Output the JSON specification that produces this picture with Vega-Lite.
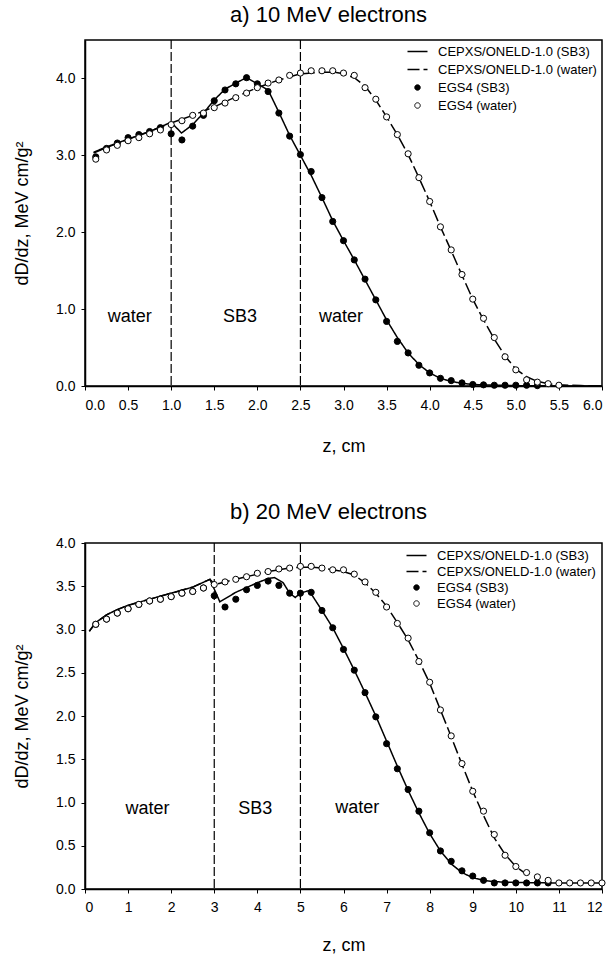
{
  "$schema": "https://vega.github.io/schema/vega-lite/v6.json",
  "background": "white",
  "padding": {"left": 12, "top": 3, "right": 8, "bottom": 0},
  "spacing": 44,
  "config": {
    "font": "Liberation Sans",
    "view": {"stroke": "black", "strokeWidth": 1.5},
    "axis": {"grid": false, "domainColor": "black", "domainWidth": 1.5, "tickColor": "black", "tickSize": 4, "labelColor": "black", "titleColor": "black", "labelFont": "Liberation Sans", "titleFont": "Liberation Sans", "labelFontSize": 14, "titleFontSize": 18, "titleFontWeight": "normal", "labelPadding": 8},
    "title": {"font": "Liberation Sans", "fontSize": 22, "fontWeight": "normal", "color": "black"},
    "text": {"font": "Liberation Sans", "color": "black"}
  },
  "datasets": {
    "a_iface": [{"z": 1.0}, {"z": 2.5}],
    "b_iface": [{"z": 3.0}, {"z": 5.0}],
    "a_labels": [{"z": 0.52, "v": 0.9, "label": "water"}, {"z": 1.8, "v": 0.9, "label": "SB3"}, {"z": 2.97, "v": 0.9, "label": "water"}],
    "b_labels": [{"z": 1.45, "v": 0.92, "label": "water"}, {"z": 3.95, "v": 0.92, "label": "SB3"}, {"z": 6.32, "v": 0.94, "label": "water"}],
    "a_lines": [
      {"series": "CEPXS/ONELD-1.0 (SB3)", "z": 0.1, "v": 3.04}, {"series": "CEPXS/ONELD-1.0 (SB3)", "z": 0.25, "v": 3.11}, {"series": "CEPXS/ONELD-1.0 (SB3)", "z": 0.5, "v": 3.21}, {"series": "CEPXS/ONELD-1.0 (SB3)", "z": 0.75, "v": 3.31}, {"series": "CEPXS/ONELD-1.0 (SB3)", "z": 1.0, "v": 3.43}, {"series": "CEPXS/ONELD-1.0 (SB3)", "z": 1.12, "v": 3.29}, {"series": "CEPXS/ONELD-1.0 (SB3)", "z": 1.25, "v": 3.4}, {"series": "CEPXS/ONELD-1.0 (SB3)", "z": 1.375, "v": 3.55}, {"series": "CEPXS/ONELD-1.0 (SB3)", "z": 1.5, "v": 3.72}, {"series": "CEPXS/ONELD-1.0 (SB3)", "z": 1.625, "v": 3.86}, {"series": "CEPXS/ONELD-1.0 (SB3)", "z": 1.75, "v": 3.94}, {"series": "CEPXS/ONELD-1.0 (SB3)", "z": 1.875, "v": 4.01}, {"series": "CEPXS/ONELD-1.0 (SB3)", "z": 2.0, "v": 3.93}, {"series": "CEPXS/ONELD-1.0 (SB3)", "z": 2.125, "v": 3.85}, {"series": "CEPXS/ONELD-1.0 (SB3)", "z": 2.25, "v": 3.56}, {"series": "CEPXS/ONELD-1.0 (SB3)", "z": 2.375, "v": 3.26}, {"series": "CEPXS/ONELD-1.0 (SB3)", "z": 2.5, "v": 3.0}, {"series": "CEPXS/ONELD-1.0 (SB3)", "z": 2.625, "v": 2.74}, {"series": "CEPXS/ONELD-1.0 (SB3)", "z": 2.75, "v": 2.45}, {"series": "CEPXS/ONELD-1.0 (SB3)", "z": 2.875, "v": 2.15}, {"series": "CEPXS/ONELD-1.0 (SB3)", "z": 3.0, "v": 1.89}, {"series": "CEPXS/ONELD-1.0 (SB3)", "z": 3.125, "v": 1.64}, {"series": "CEPXS/ONELD-1.0 (SB3)", "z": 3.25, "v": 1.38}, {"series": "CEPXS/ONELD-1.0 (SB3)", "z": 3.375, "v": 1.12}, {"series": "CEPXS/ONELD-1.0 (SB3)", "z": 3.5, "v": 0.86}, {"series": "CEPXS/ONELD-1.0 (SB3)", "z": 3.625, "v": 0.63}, {"series": "CEPXS/ONELD-1.0 (SB3)", "z": 3.75, "v": 0.43}, {"series": "CEPXS/ONELD-1.0 (SB3)", "z": 3.875, "v": 0.28}, {"series": "CEPXS/ONELD-1.0 (SB3)", "z": 4.0, "v": 0.17}, {"series": "CEPXS/ONELD-1.0 (SB3)", "z": 4.125, "v": 0.1}, {"series": "CEPXS/ONELD-1.0 (SB3)", "z": 4.25, "v": 0.06}, {"series": "CEPXS/ONELD-1.0 (SB3)", "z": 4.375, "v": 0.035}, {"series": "CEPXS/ONELD-1.0 (SB3)", "z": 4.5, "v": 0.02}, {"series": "CEPXS/ONELD-1.0 (SB3)", "z": 4.75, "v": 0.01}, {"series": "CEPXS/ONELD-1.0 (SB3)", "z": 5.0, "v": 0.005}, {"series": "CEPXS/ONELD-1.0 (SB3)", "z": 5.5, "v": 0.0}, {"series": "CEPXS/ONELD-1.0 (SB3)", "z": 6.0, "v": 0.0},
      {"series": "CEPXS/ONELD-1.0 (water)", "z": 0.1, "v": 3.03}, {"series": "CEPXS/ONELD-1.0 (water)", "z": 0.25, "v": 3.1}, {"series": "CEPXS/ONELD-1.0 (water)", "z": 0.5, "v": 3.21}, {"series": "CEPXS/ONELD-1.0 (water)", "z": 0.75, "v": 3.31}, {"series": "CEPXS/ONELD-1.0 (water)", "z": 1.0, "v": 3.42}, {"series": "CEPXS/ONELD-1.0 (water)", "z": 1.125, "v": 3.47}, {"series": "CEPXS/ONELD-1.0 (water)", "z": 1.25, "v": 3.52}, {"series": "CEPXS/ONELD-1.0 (water)", "z": 1.5, "v": 3.63}, {"series": "CEPXS/ONELD-1.0 (water)", "z": 1.75, "v": 3.76}, {"series": "CEPXS/ONELD-1.0 (water)", "z": 2.0, "v": 3.88}, {"series": "CEPXS/ONELD-1.0 (water)", "z": 2.25, "v": 3.98}, {"series": "CEPXS/ONELD-1.0 (water)", "z": 2.5, "v": 4.06}, {"series": "CEPXS/ONELD-1.0 (water)", "z": 2.75, "v": 4.08}, {"series": "CEPXS/ONELD-1.0 (water)", "z": 2.9, "v": 4.08}, {"series": "CEPXS/ONELD-1.0 (water)", "z": 3.0, "v": 4.06}, {"series": "CEPXS/ONELD-1.0 (water)", "z": 3.125, "v": 4.01}, {"series": "CEPXS/ONELD-1.0 (water)", "z": 3.25, "v": 3.9}, {"series": "CEPXS/ONELD-1.0 (water)", "z": 3.375, "v": 3.72}, {"series": "CEPXS/ONELD-1.0 (water)", "z": 3.5, "v": 3.5}, {"series": "CEPXS/ONELD-1.0 (water)", "z": 3.625, "v": 3.27}, {"series": "CEPXS/ONELD-1.0 (water)", "z": 3.75, "v": 3.01}, {"series": "CEPXS/ONELD-1.0 (water)", "z": 3.875, "v": 2.71}, {"series": "CEPXS/ONELD-1.0 (water)", "z": 4.0, "v": 2.4}, {"series": "CEPXS/ONELD-1.0 (water)", "z": 4.125, "v": 2.07}, {"series": "CEPXS/ONELD-1.0 (water)", "z": 4.25, "v": 1.76}, {"series": "CEPXS/ONELD-1.0 (water)", "z": 4.375, "v": 1.44}, {"series": "CEPXS/ONELD-1.0 (water)", "z": 4.5, "v": 1.13}, {"series": "CEPXS/ONELD-1.0 (water)", "z": 4.625, "v": 0.86}, {"series": "CEPXS/ONELD-1.0 (water)", "z": 4.75, "v": 0.61}, {"series": "CEPXS/ONELD-1.0 (water)", "z": 4.875, "v": 0.39}, {"series": "CEPXS/ONELD-1.0 (water)", "z": 5.0, "v": 0.22}, {"series": "CEPXS/ONELD-1.0 (water)", "z": 5.125, "v": 0.12}, {"series": "CEPXS/ONELD-1.0 (water)", "z": 5.25, "v": 0.06}, {"series": "CEPXS/ONELD-1.0 (water)", "z": 5.375, "v": 0.03}, {"series": "CEPXS/ONELD-1.0 (water)", "z": 5.5, "v": 0.015}, {"series": "CEPXS/ONELD-1.0 (water)", "z": 5.75, "v": 0.005}, {"series": "CEPXS/ONELD-1.0 (water)", "z": 6.0, "v": 0.0}
    ],
    "a_points": [
      {"series": "EGS4 (SB3)", "z": 0.125, "v": 2.98}, {"series": "EGS4 (SB3)", "z": 0.25, "v": 3.09}, {"series": "EGS4 (SB3)", "z": 0.375, "v": 3.16}, {"series": "EGS4 (SB3)", "z": 0.5, "v": 3.23}, {"series": "EGS4 (SB3)", "z": 0.625, "v": 3.27}, {"series": "EGS4 (SB3)", "z": 0.75, "v": 3.31}, {"series": "EGS4 (SB3)", "z": 0.875, "v": 3.36}, {"series": "EGS4 (SB3)", "z": 1.0, "v": 3.28}, {"series": "EGS4 (SB3)", "z": 1.125, "v": 3.2}, {"series": "EGS4 (SB3)", "z": 1.25, "v": 3.38}, {"series": "EGS4 (SB3)", "z": 1.375, "v": 3.52}, {"series": "EGS4 (SB3)", "z": 1.5, "v": 3.71}, {"series": "EGS4 (SB3)", "z": 1.625, "v": 3.85}, {"series": "EGS4 (SB3)", "z": 1.75, "v": 3.93}, {"series": "EGS4 (SB3)", "z": 1.875, "v": 4.01}, {"series": "EGS4 (SB3)", "z": 2.0, "v": 3.93}, {"series": "EGS4 (SB3)", "z": 2.125, "v": 3.83}, {"series": "EGS4 (SB3)", "z": 2.25, "v": 3.55}, {"series": "EGS4 (SB3)", "z": 2.375, "v": 3.25}, {"series": "EGS4 (SB3)", "z": 2.5, "v": 3.01}, {"series": "EGS4 (SB3)", "z": 2.625, "v": 2.79}, {"series": "EGS4 (SB3)", "z": 2.75, "v": 2.45}, {"series": "EGS4 (SB3)", "z": 2.875, "v": 2.14}, {"series": "EGS4 (SB3)", "z": 3.0, "v": 1.89}, {"series": "EGS4 (SB3)", "z": 3.125, "v": 1.64}, {"series": "EGS4 (SB3)", "z": 3.25, "v": 1.39}, {"series": "EGS4 (SB3)", "z": 3.375, "v": 1.12}, {"series": "EGS4 (SB3)", "z": 3.5, "v": 0.84}, {"series": "EGS4 (SB3)", "z": 3.625, "v": 0.58}, {"series": "EGS4 (SB3)", "z": 3.75, "v": 0.43}, {"series": "EGS4 (SB3)", "z": 3.875, "v": 0.27}, {"series": "EGS4 (SB3)", "z": 4.0, "v": 0.17}, {"series": "EGS4 (SB3)", "z": 4.125, "v": 0.1}, {"series": "EGS4 (SB3)", "z": 4.25, "v": 0.07}, {"series": "EGS4 (SB3)", "z": 4.375, "v": 0.04}, {"series": "EGS4 (SB3)", "z": 4.5, "v": 0.02}, {"series": "EGS4 (SB3)", "z": 4.625, "v": 0.015}, {"series": "EGS4 (SB3)", "z": 4.75, "v": 0.01}, {"series": "EGS4 (SB3)", "z": 4.875, "v": 0.01}, {"series": "EGS4 (SB3)", "z": 5.0, "v": 0.01}, {"series": "EGS4 (SB3)", "z": 5.125, "v": 0.01}, {"series": "EGS4 (SB3)", "z": 5.25, "v": 0.005},
      {"series": "EGS4 (water)", "z": 0.125, "v": 2.95}, {"series": "EGS4 (water)", "z": 0.25, "v": 3.07}, {"series": "EGS4 (water)", "z": 0.375, "v": 3.13}, {"series": "EGS4 (water)", "z": 0.5, "v": 3.19}, {"series": "EGS4 (water)", "z": 0.625, "v": 3.23}, {"series": "EGS4 (water)", "z": 0.75, "v": 3.28}, {"series": "EGS4 (water)", "z": 0.875, "v": 3.33}, {"series": "EGS4 (water)", "z": 1.0, "v": 3.4}, {"series": "EGS4 (water)", "z": 1.125, "v": 3.45}, {"series": "EGS4 (water)", "z": 1.25, "v": 3.52}, {"series": "EGS4 (water)", "z": 1.375, "v": 3.55}, {"series": "EGS4 (water)", "z": 1.5, "v": 3.62}, {"series": "EGS4 (water)", "z": 1.625, "v": 3.68}, {"series": "EGS4 (water)", "z": 1.75, "v": 3.75}, {"series": "EGS4 (water)", "z": 1.875, "v": 3.81}, {"series": "EGS4 (water)", "z": 2.0, "v": 3.88}, {"series": "EGS4 (water)", "z": 2.125, "v": 3.94}, {"series": "EGS4 (water)", "z": 2.25, "v": 3.98}, {"series": "EGS4 (water)", "z": 2.375, "v": 4.04}, {"series": "EGS4 (water)", "z": 2.5, "v": 4.07}, {"series": "EGS4 (water)", "z": 2.625, "v": 4.1}, {"series": "EGS4 (water)", "z": 2.75, "v": 4.1}, {"series": "EGS4 (water)", "z": 2.875, "v": 4.1}, {"series": "EGS4 (water)", "z": 3.0, "v": 4.07}, {"series": "EGS4 (water)", "z": 3.125, "v": 4.04}, {"series": "EGS4 (water)", "z": 3.25, "v": 3.88}, {"series": "EGS4 (water)", "z": 3.375, "v": 3.73}, {"series": "EGS4 (water)", "z": 3.5, "v": 3.5}, {"series": "EGS4 (water)", "z": 3.625, "v": 3.27}, {"series": "EGS4 (water)", "z": 3.75, "v": 3.02}, {"series": "EGS4 (water)", "z": 3.875, "v": 2.71}, {"series": "EGS4 (water)", "z": 4.0, "v": 2.4}, {"series": "EGS4 (water)", "z": 4.125, "v": 2.07}, {"series": "EGS4 (water)", "z": 4.25, "v": 1.77}, {"series": "EGS4 (water)", "z": 4.375, "v": 1.45}, {"series": "EGS4 (water)", "z": 4.5, "v": 1.13}, {"series": "EGS4 (water)", "z": 4.625, "v": 0.88}, {"series": "EGS4 (water)", "z": 4.75, "v": 0.63}, {"series": "EGS4 (water)", "z": 4.875, "v": 0.38}, {"series": "EGS4 (water)", "z": 5.0, "v": 0.21}, {"series": "EGS4 (water)", "z": 5.125, "v": 0.08}, {"series": "EGS4 (water)", "z": 5.25, "v": 0.05}, {"series": "EGS4 (water)", "z": 5.375, "v": 0.03}, {"series": "EGS4 (water)", "z": 5.5, "v": 0.01}
    ],
    "b_lines": [
      {"series": "CEPXS/ONELD-1.0 (SB3)", "z": 0.1, "v": 2.98}, {"series": "CEPXS/ONELD-1.0 (SB3)", "z": 0.25, "v": 3.08}, {"series": "CEPXS/ONELD-1.0 (SB3)", "z": 0.5, "v": 3.17}, {"series": "CEPXS/ONELD-1.0 (SB3)", "z": 0.75, "v": 3.23}, {"series": "CEPXS/ONELD-1.0 (SB3)", "z": 1.0, "v": 3.28}, {"series": "CEPXS/ONELD-1.0 (SB3)", "z": 1.5, "v": 3.35}, {"series": "CEPXS/ONELD-1.0 (SB3)", "z": 2.0, "v": 3.42}, {"series": "CEPXS/ONELD-1.0 (SB3)", "z": 2.5, "v": 3.49}, {"series": "CEPXS/ONELD-1.0 (SB3)", "z": 2.9, "v": 3.58}, {"series": "CEPXS/ONELD-1.0 (SB3)", "z": 3.13, "v": 3.32}, {"series": "CEPXS/ONELD-1.0 (SB3)", "z": 3.5, "v": 3.43}, {"series": "CEPXS/ONELD-1.0 (SB3)", "z": 4.0, "v": 3.54}, {"series": "CEPXS/ONELD-1.0 (SB3)", "z": 4.25, "v": 3.59}, {"series": "CEPXS/ONELD-1.0 (SB3)", "z": 4.4, "v": 3.6}, {"series": "CEPXS/ONELD-1.0 (SB3)", "z": 4.6, "v": 3.54}, {"series": "CEPXS/ONELD-1.0 (SB3)", "z": 4.75, "v": 3.42}, {"series": "CEPXS/ONELD-1.0 (SB3)", "z": 4.88, "v": 3.37}, {"series": "CEPXS/ONELD-1.0 (SB3)", "z": 5.0, "v": 3.42}, {"series": "CEPXS/ONELD-1.0 (SB3)", "z": 5.2, "v": 3.45}, {"series": "CEPXS/ONELD-1.0 (SB3)", "z": 5.5, "v": 3.22}, {"series": "CEPXS/ONELD-1.0 (SB3)", "z": 5.75, "v": 3.02}, {"series": "CEPXS/ONELD-1.0 (SB3)", "z": 6.0, "v": 2.78}, {"series": "CEPXS/ONELD-1.0 (SB3)", "z": 6.25, "v": 2.53}, {"series": "CEPXS/ONELD-1.0 (SB3)", "z": 6.5, "v": 2.27}, {"series": "CEPXS/ONELD-1.0 (SB3)", "z": 6.75, "v": 2.0}, {"series": "CEPXS/ONELD-1.0 (SB3)", "z": 7.0, "v": 1.71}, {"series": "CEPXS/ONELD-1.0 (SB3)", "z": 7.25, "v": 1.42}, {"series": "CEPXS/ONELD-1.0 (SB3)", "z": 7.5, "v": 1.14}, {"series": "CEPXS/ONELD-1.0 (SB3)", "z": 7.75, "v": 0.88}, {"series": "CEPXS/ONELD-1.0 (SB3)", "z": 8.0, "v": 0.64}, {"series": "CEPXS/ONELD-1.0 (SB3)", "z": 8.25, "v": 0.44}, {"series": "CEPXS/ONELD-1.0 (SB3)", "z": 8.5, "v": 0.29}, {"series": "CEPXS/ONELD-1.0 (SB3)", "z": 8.75, "v": 0.19}, {"series": "CEPXS/ONELD-1.0 (SB3)", "z": 9.0, "v": 0.13}, {"series": "CEPXS/ONELD-1.0 (SB3)", "z": 9.25, "v": 0.1}, {"series": "CEPXS/ONELD-1.0 (SB3)", "z": 9.5, "v": 0.085}, {"series": "CEPXS/ONELD-1.0 (SB3)", "z": 10.0, "v": 0.075}, {"series": "CEPXS/ONELD-1.0 (SB3)", "z": 11.0, "v": 0.07}, {"series": "CEPXS/ONELD-1.0 (SB3)", "z": 12.0, "v": 0.07},
      {"series": "CEPXS/ONELD-1.0 (water)", "z": 0.1, "v": 2.98}, {"series": "CEPXS/ONELD-1.0 (water)", "z": 0.25, "v": 3.08}, {"series": "CEPXS/ONELD-1.0 (water)", "z": 0.5, "v": 3.17}, {"series": "CEPXS/ONELD-1.0 (water)", "z": 0.75, "v": 3.23}, {"series": "CEPXS/ONELD-1.0 (water)", "z": 1.0, "v": 3.28}, {"series": "CEPXS/ONELD-1.0 (water)", "z": 1.5, "v": 3.35}, {"series": "CEPXS/ONELD-1.0 (water)", "z": 2.0, "v": 3.42}, {"series": "CEPXS/ONELD-1.0 (water)", "z": 2.5, "v": 3.49}, {"series": "CEPXS/ONELD-1.0 (water)", "z": 2.9, "v": 3.58}, {"series": "CEPXS/ONELD-1.0 (water)", "z": 3.02, "v": 3.52}, {"series": "CEPXS/ONELD-1.0 (water)", "z": 3.25, "v": 3.55}, {"series": "CEPXS/ONELD-1.0 (water)", "z": 3.5, "v": 3.58}, {"series": "CEPXS/ONELD-1.0 (water)", "z": 3.75, "v": 3.61}, {"series": "CEPXS/ONELD-1.0 (water)", "z": 4.0, "v": 3.64}, {"series": "CEPXS/ONELD-1.0 (water)", "z": 4.25, "v": 3.67}, {"series": "CEPXS/ONELD-1.0 (water)", "z": 4.5, "v": 3.69}, {"series": "CEPXS/ONELD-1.0 (water)", "z": 4.75, "v": 3.71}, {"series": "CEPXS/ONELD-1.0 (water)", "z": 5.0, "v": 3.72}, {"series": "CEPXS/ONELD-1.0 (water)", "z": 5.25, "v": 3.72}, {"series": "CEPXS/ONELD-1.0 (water)", "z": 5.5, "v": 3.71}, {"series": "CEPXS/ONELD-1.0 (water)", "z": 5.75, "v": 3.69}, {"series": "CEPXS/ONELD-1.0 (water)", "z": 6.0, "v": 3.67}, {"series": "CEPXS/ONELD-1.0 (water)", "z": 6.25, "v": 3.63}, {"series": "CEPXS/ONELD-1.0 (water)", "z": 6.5, "v": 3.54}, {"series": "CEPXS/ONELD-1.0 (water)", "z": 6.75, "v": 3.42}, {"series": "CEPXS/ONELD-1.0 (water)", "z": 7.0, "v": 3.27}, {"series": "CEPXS/ONELD-1.0 (water)", "z": 7.25, "v": 3.08}, {"series": "CEPXS/ONELD-1.0 (water)", "z": 7.5, "v": 2.88}, {"series": "CEPXS/ONELD-1.0 (water)", "z": 7.75, "v": 2.64}, {"series": "CEPXS/ONELD-1.0 (water)", "z": 8.0, "v": 2.38}, {"series": "CEPXS/ONELD-1.0 (water)", "z": 8.25, "v": 2.07}, {"series": "CEPXS/ONELD-1.0 (water)", "z": 8.5, "v": 1.76}, {"series": "CEPXS/ONELD-1.0 (water)", "z": 8.75, "v": 1.44}, {"series": "CEPXS/ONELD-1.0 (water)", "z": 9.0, "v": 1.13}, {"series": "CEPXS/ONELD-1.0 (water)", "z": 9.25, "v": 0.85}, {"series": "CEPXS/ONELD-1.0 (water)", "z": 9.5, "v": 0.59}, {"series": "CEPXS/ONELD-1.0 (water)", "z": 9.75, "v": 0.4}, {"series": "CEPXS/ONELD-1.0 (water)", "z": 10.0, "v": 0.26}, {"series": "CEPXS/ONELD-1.0 (water)", "z": 10.25, "v": 0.17}
    ],
    "b_points": [
      {"series": "EGS4 (SB3)", "z": 0.25, "v": 3.06}, {"series": "EGS4 (SB3)", "z": 0.5, "v": 3.12}, {"series": "EGS4 (SB3)", "z": 0.75, "v": 3.19}, {"series": "EGS4 (SB3)", "z": 1.0, "v": 3.24}, {"series": "EGS4 (SB3)", "z": 1.25, "v": 3.29}, {"series": "EGS4 (SB3)", "z": 1.5, "v": 3.33}, {"series": "EGS4 (SB3)", "z": 1.75, "v": 3.35}, {"series": "EGS4 (SB3)", "z": 2.0, "v": 3.38}, {"series": "EGS4 (SB3)", "z": 2.25, "v": 3.42}, {"series": "EGS4 (SB3)", "z": 2.5, "v": 3.44}, {"series": "EGS4 (SB3)", "z": 2.75, "v": 3.48}, {"series": "EGS4 (SB3)", "z": 3.0, "v": 3.39}, {"series": "EGS4 (SB3)", "z": 3.25, "v": 3.26}, {"series": "EGS4 (SB3)", "z": 3.5, "v": 3.35}, {"series": "EGS4 (SB3)", "z": 3.75, "v": 3.46}, {"series": "EGS4 (SB3)", "z": 4.0, "v": 3.51}, {"series": "EGS4 (SB3)", "z": 4.25, "v": 3.56}, {"series": "EGS4 (SB3)", "z": 4.5, "v": 3.51}, {"series": "EGS4 (SB3)", "z": 4.75, "v": 3.42}, {"series": "EGS4 (SB3)", "z": 5.0, "v": 3.42}, {"series": "EGS4 (SB3)", "z": 5.25, "v": 3.43}, {"series": "EGS4 (SB3)", "z": 5.5, "v": 3.22}, {"series": "EGS4 (SB3)", "z": 5.75, "v": 3.02}, {"series": "EGS4 (SB3)", "z": 6.0, "v": 2.77}, {"series": "EGS4 (SB3)", "z": 6.25, "v": 2.53}, {"series": "EGS4 (SB3)", "z": 6.5, "v": 2.27}, {"series": "EGS4 (SB3)", "z": 6.75, "v": 1.99}, {"series": "EGS4 (SB3)", "z": 7.0, "v": 1.68}, {"series": "EGS4 (SB3)", "z": 7.25, "v": 1.39}, {"series": "EGS4 (SB3)", "z": 7.5, "v": 1.15}, {"series": "EGS4 (SB3)", "z": 7.75, "v": 0.9}, {"series": "EGS4 (SB3)", "z": 8.0, "v": 0.65}, {"series": "EGS4 (SB3)", "z": 8.25, "v": 0.44}, {"series": "EGS4 (SB3)", "z": 8.5, "v": 0.32}, {"series": "EGS4 (SB3)", "z": 8.75, "v": 0.21}, {"series": "EGS4 (SB3)", "z": 9.0, "v": 0.15}, {"series": "EGS4 (SB3)", "z": 9.25, "v": 0.1}, {"series": "EGS4 (SB3)", "z": 9.5, "v": 0.07}, {"series": "EGS4 (SB3)", "z": 9.75, "v": 0.07}, {"series": "EGS4 (SB3)", "z": 10.0, "v": 0.07}, {"series": "EGS4 (SB3)", "z": 10.25, "v": 0.07}, {"series": "EGS4 (SB3)", "z": 10.5, "v": 0.07}, {"series": "EGS4 (SB3)", "z": 10.75, "v": 0.07},
      {"series": "EGS4 (water)", "z": 0.25, "v": 3.06}, {"series": "EGS4 (water)", "z": 0.5, "v": 3.12}, {"series": "EGS4 (water)", "z": 0.75, "v": 3.19}, {"series": "EGS4 (water)", "z": 1.0, "v": 3.24}, {"series": "EGS4 (water)", "z": 1.25, "v": 3.29}, {"series": "EGS4 (water)", "z": 1.5, "v": 3.33}, {"series": "EGS4 (water)", "z": 1.75, "v": 3.35}, {"series": "EGS4 (water)", "z": 2.0, "v": 3.38}, {"series": "EGS4 (water)", "z": 2.25, "v": 3.42}, {"series": "EGS4 (water)", "z": 2.5, "v": 3.44}, {"series": "EGS4 (water)", "z": 2.75, "v": 3.48}, {"series": "EGS4 (water)", "z": 3.0, "v": 3.52}, {"series": "EGS4 (water)", "z": 3.25, "v": 3.55}, {"series": "EGS4 (water)", "z": 3.5, "v": 3.58}, {"series": "EGS4 (water)", "z": 3.75, "v": 3.61}, {"series": "EGS4 (water)", "z": 4.0, "v": 3.65}, {"series": "EGS4 (water)", "z": 4.25, "v": 3.67}, {"series": "EGS4 (water)", "z": 4.5, "v": 3.7}, {"series": "EGS4 (water)", "z": 4.75, "v": 3.71}, {"series": "EGS4 (water)", "z": 5.0, "v": 3.73}, {"series": "EGS4 (water)", "z": 5.25, "v": 3.73}, {"series": "EGS4 (water)", "z": 5.5, "v": 3.71}, {"series": "EGS4 (water)", "z": 5.75, "v": 3.69}, {"series": "EGS4 (water)", "z": 6.0, "v": 3.69}, {"series": "EGS4 (water)", "z": 6.25, "v": 3.64}, {"series": "EGS4 (water)", "z": 6.5, "v": 3.55}, {"series": "EGS4 (water)", "z": 6.75, "v": 3.43}, {"series": "EGS4 (water)", "z": 7.0, "v": 3.26}, {"series": "EGS4 (water)", "z": 7.25, "v": 3.07}, {"series": "EGS4 (water)", "z": 7.5, "v": 2.9}, {"series": "EGS4 (water)", "z": 7.75, "v": 2.63}, {"series": "EGS4 (water)", "z": 8.0, "v": 2.39}, {"series": "EGS4 (water)", "z": 8.25, "v": 2.07}, {"series": "EGS4 (water)", "z": 8.5, "v": 1.77}, {"series": "EGS4 (water)", "z": 8.75, "v": 1.45}, {"series": "EGS4 (water)", "z": 9.0, "v": 1.13}, {"series": "EGS4 (water)", "z": 9.25, "v": 0.9}, {"series": "EGS4 (water)", "z": 9.5, "v": 0.63}, {"series": "EGS4 (water)", "z": 9.75, "v": 0.39}, {"series": "EGS4 (water)", "z": 10.0, "v": 0.26}, {"series": "EGS4 (water)", "z": 10.25, "v": 0.19}, {"series": "EGS4 (water)", "z": 10.5, "v": 0.14}, {"series": "EGS4 (water)", "z": 10.75, "v": 0.1}, {"series": "EGS4 (water)", "z": 11.0, "v": 0.07}, {"series": "EGS4 (water)", "z": 11.25, "v": 0.07}, {"series": "EGS4 (water)", "z": 11.5, "v": 0.07}, {"series": "EGS4 (water)", "z": 11.75, "v": 0.07}, {"series": "EGS4 (water)", "z": 12.0, "v": 0.07}
    ]
  },
  "resolve": {"scale": {"strokeDash": "independent", "fill": "independent"}, "legend": {"strokeDash": "independent", "fill": "independent"}},
  "vconcat": [
    {
      "width": 517, "height": 346,
      "title": {"text": "a) 10 MeV electrons", "offset": 12, "frame": "group", "dx": -15},
      "layer": [
        {"data": {"name": "a_iface"}, "mark": {"type": "rule", "color": "black", "strokeWidth": 1.2, "strokeDash": [9, 3]},
         "encoding": {"x": {"field": "z", "type": "quantitative", "scale": {"domain": [0, 6], "nice": false}, "axis": {"title": "z, cm", "values": [0, 0.5, 1, 1.5, 2, 2.5, 3, 3.5, 4, 4.5, 5, 5.5, 6], "format": ".1f", "titlePadding": 25}}}},
        {"data": {"name": "a_lines"}, "mark": {"type": "line", "color": "black", "strokeWidth": 1.5},
         "encoding": {
           "x": {"field": "z", "type": "quantitative", "scale": {"domain": [0, 6], "nice": false}, "axis": {"title": "z, cm", "values": [0, 0.5, 1, 1.5, 2, 2.5, 3, 3.5, 4, 4.5, 5, 5.5, 6], "format": ".1f", "titlePadding": 25}},
           "y": {"field": "v", "type": "quantitative", "scale": {"domain": [0, 4.5], "nice": false}, "axis": {"title": "dD/dz, MeV cm/g²", "values": [0, 0.5, 1, 1.5, 2, 2.5, 3, 3.5, 4, 4.5], "format": ".1f", "titlePadding": 24, "labelPadding": 6}},
           "strokeDash": {"field": "series", "type": "nominal",
             "scale": {"domain": ["CEPXS/ONELD-1.0 (SB3)", "CEPXS/ONELD-1.0 (water)", "EGS4 (SB3)", "EGS4 (water)"], "range": [[1, 0], [12, 4], [1, 0], [1, 0]]},
             "legend": {"title": null, "orient": "top-right", "offset": 0, "padding": 5, "labelFont": "Liberation Sans", "labelFontSize": 13, "labelColor": "black", "labelLimit": 300, "labelOffset": 14, "symbolType": "stroke", "symbolSize": 400, "symbolStrokeWidth": 1.5, "symbolStrokeColor": "black", "rowPadding": 4,
               "encode": {"symbols": {"update": {
                 "shape": {"signal": "indexof(['EGS4 (SB3)','EGS4 (water)'], datum.value) >= 0 ? 'circle' : 'stroke'"},
                 "size": {"signal": "indexof(['EGS4 (SB3)','EGS4 (water)'], datum.value) >= 0 ? 30 : 400"},
                 "fill": {"signal": "datum.value === 'EGS4 (SB3)' ? 'black' : (datum.value === 'EGS4 (water)' ? 'white' : 'transparent')"},
                 "stroke": {"value": "black"},
                 "strokeWidth": {"signal": "indexof(['EGS4 (SB3)','EGS4 (water)'], datum.value) >= 0 ? 1 : 1.5"}
               }}}}}
         }},
        {"data": {"name": "a_points"}, "mark": {"type": "point", "shape": "circle", "filled": true, "stroke": "black", "strokeWidth": 1, "size": 38, "opacity": 1},
         "encoding": {
           "x": {"field": "z", "type": "quantitative", "scale": {"domain": [0, 6], "nice": false}},
           "y": {"field": "v", "type": "quantitative", "scale": {"domain": [0, 4.5], "nice": false}},
           "fill": {"field": "series", "type": "nominal", "scale": {"domain": ["EGS4 (SB3)", "EGS4 (water)"], "range": ["black", "white"]}, "legend": null}
         }},
        {"data": {"name": "a_labels"}, "mark": {"type": "text", "fontSize": 18, "font": "Liberation Sans"},
         "encoding": {
           "x": {"field": "z", "type": "quantitative", "scale": {"domain": [0, 6], "nice": false}},
           "y": {"field": "v", "type": "quantitative", "scale": {"domain": [0, 4.5], "nice": false}},
           "text": {"field": "label", "type": "nominal"}
         }}
      ]
    },
    {
      "width": 517, "height": 346,
      "title": {"text": "b) 20 MeV electrons", "offset": 12, "frame": "group", "dx": -15},
      "layer": [
        {"data": {"name": "b_iface"}, "mark": {"type": "rule", "color": "black", "strokeWidth": 1.2, "strokeDash": [9, 3]},
         "encoding": {"x": {"field": "z", "type": "quantitative", "scale": {"domain": [0, 12], "nice": false}, "axis": {"title": "z, cm", "values": [0, 1, 2, 3, 4, 5, 6, 7, 8, 9, 10, 11, 12], "format": "d", "titlePadding": 22, "labelPadding": 7}}}},
        {"data": {"name": "b_lines"}, "mark": {"type": "line", "color": "black", "strokeWidth": 1.5},
         "encoding": {
           "x": {"field": "z", "type": "quantitative", "scale": {"domain": [0, 12], "nice": false}, "axis": {"title": "z, cm", "values": [0, 1, 2, 3, 4, 5, 6, 7, 8, 9, 10, 11, 12], "format": "d", "titlePadding": 22, "labelPadding": 7}},
           "y": {"field": "v", "type": "quantitative", "scale": {"domain": [0, 4], "nice": false}, "axis": {"title": "dD/dz, MeV cm/g²", "values": [0, 0.5, 1, 1.5, 2, 2.5, 3, 3.5, 4], "format": ".1f", "titlePadding": 24, "labelPadding": 6}},
           "strokeDash": {"field": "series", "type": "nominal",
             "scale": {"domain": ["CEPXS/ONELD-1.0 (SB3)", "CEPXS/ONELD-1.0 (water)", "EGS4 (SB3)", "EGS4 (water)"], "range": [[1, 0], [12, 4], [1, 0], [1, 0]]},
             "legend": {"title": null, "orient": "top-right", "offset": 0, "padding": 6, "labelFont": "Liberation Sans", "labelFontSize": 13, "labelColor": "black", "labelLimit": 300, "labelOffset": 14, "symbolType": "stroke", "symbolSize": 400, "symbolStrokeWidth": 1.5, "symbolStrokeColor": "black", "rowPadding": 2,
               "encode": {"symbols": {"update": {
                 "shape": {"signal": "indexof(['EGS4 (SB3)','EGS4 (water)'], datum.value) >= 0 ? 'circle' : 'stroke'"},
                 "size": {"signal": "indexof(['EGS4 (SB3)','EGS4 (water)'], datum.value) >= 0 ? 30 : 400"},
                 "fill": {"signal": "datum.value === 'EGS4 (SB3)' ? 'black' : (datum.value === 'EGS4 (water)' ? 'white' : 'transparent')"},
                 "stroke": {"value": "black"},
                 "strokeWidth": {"signal": "indexof(['EGS4 (SB3)','EGS4 (water)'], datum.value) >= 0 ? 1 : 1.5"}
               }}}}}
         }},
        {"data": {"name": "b_points"}, "mark": {"type": "point", "shape": "circle", "filled": true, "stroke": "black", "strokeWidth": 1, "size": 38, "opacity": 1},
         "encoding": {
           "x": {"field": "z", "type": "quantitative", "scale": {"domain": [0, 12], "nice": false}},
           "y": {"field": "v", "type": "quantitative", "scale": {"domain": [0, 4], "nice": false}},
           "fill": {"field": "series", "type": "nominal", "scale": {"domain": ["EGS4 (SB3)", "EGS4 (water)"], "range": ["black", "white"]}, "legend": null}
         }},
        {"data": {"name": "b_labels"}, "mark": {"type": "text", "fontSize": 18, "font": "Liberation Sans"},
         "encoding": {
           "x": {"field": "z", "type": "quantitative", "scale": {"domain": [0, 12], "nice": false}},
           "y": {"field": "v", "type": "quantitative", "scale": {"domain": [0, 4], "nice": false}},
           "text": {"field": "label", "type": "nominal"}
         }}
      ]
    }
  ]
}
